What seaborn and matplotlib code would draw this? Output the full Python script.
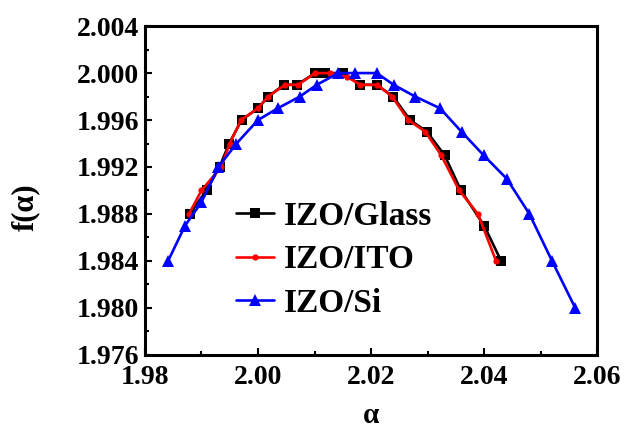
import matplotlib
matplotlib.use("Agg")
import matplotlib.pyplot as plt
import seaborn as sns
from matplotlib.ticker import MultipleLocator, FormatStrFormatter

# data
glass_a = [1.9879, 1.9909, 1.9932, 1.9949, 1.9971, 2.0000, 2.0018, 2.0046, 2.0069,
           2.0101, 2.0119, 2.0150, 2.0181, 2.0210, 2.0239, 2.0269, 2.0299, 2.0330,
           2.0359, 2.0400, 2.0430]
glass_f = [1.9880, 1.9900, 1.9920, 1.9940, 1.9960, 1.9970, 1.9980, 1.9990, 1.9990,
           2.0000, 2.0000, 2.0000, 1.9990, 1.9990, 1.9980, 1.9960, 1.9950, 1.9930,
           1.9900, 1.9870, 1.9840]

ito_a = [1.9878, 1.9900, 1.9935, 1.9950, 1.9970, 2.0000, 2.0018, 2.0048, 2.0071,
         2.0101, 2.0127, 2.0157, 2.0181, 2.0211, 2.0237, 2.0266, 2.0296, 2.0324,
         2.0356, 2.0389, 2.0421]
ito_f = [1.9880, 1.9900, 1.9920, 1.9940, 1.9960, 1.9970, 1.9980, 1.9990, 1.9990,
         2.0000, 2.0000, 1.9997, 1.9990, 1.9990, 1.9980, 1.9960, 1.9950, 1.9930,
         1.9900, 1.9880, 1.9840]

si_a = [1.9841, 1.9871, 1.9900, 1.9930, 1.9962, 2.0000, 2.0035, 2.0074, 2.0104,
        2.0142, 2.0172, 2.0210, 2.0240, 2.0278, 2.0322, 2.0360, 2.0399, 2.0440,
        2.0480, 2.0520, 2.0561]
si_f = [1.9840, 1.9870, 1.9890, 1.9920, 1.9940, 1.9960, 1.9970, 1.9980, 1.9990,
        2.0000, 2.0000, 2.0000, 1.9990, 1.9980, 1.9970, 1.9950, 1.9930, 1.9910,
        1.9880, 1.9840, 1.9800]

labels = ["IZO/Glass", "IZO/ITO", "IZO/Si"]

sns.set_style("ticks")
plt.rcParams["font.family"] = ["Liberation Serif", "DejaVu Serif"]
plt.rcParams["font.weight"] = "bold"
plt.rcParams["text.color"] = "black"
plt.rcParams["axes.labelcolor"] = "black"
plt.rcParams["xtick.color"] = "black"
plt.rcParams["ytick.color"] = "black"

fig = plt.figure(figsize=(6.3, 4.28), dpi=100)
ax = fig.add_axes([0.230, 0.171, 0.718, 0.768])

sns.lineplot(x=glass_a, y=glass_f, ax=ax, sort=False, color="black", lw=1.9,
             marker="s", markersize=6.5, markeredgewidth=0, label=labels[0])
sns.lineplot(x=ito_a, y=ito_f, ax=ax, sort=False, color="#ff0000", lw=1.9,
             marker="o", markersize=4.5, markeredgewidth=0, label=labels[1])
sns.lineplot(x=si_a, y=si_f, ax=ax, sort=False, color="#0000ff", lw=1.9,
             marker="^", markersize=9, markeredgewidth=0, label=labels[2])

ax.set_xlim(1.98, 2.06)
ax.set_ylim(1.976, 2.004)
ax.xaxis.set_major_locator(MultipleLocator(0.02))
ax.xaxis.set_minor_locator(MultipleLocator(0.01))
ax.yaxis.set_major_locator(MultipleLocator(0.004))
ax.yaxis.set_minor_locator(MultipleLocator(0.002))
ax.xaxis.set_major_formatter(FormatStrFormatter("%.2f"))
ax.yaxis.set_major_formatter(FormatStrFormatter("%.3f"))
ax.tick_params(which="both", direction="in", width=1.5, labelsize=20,
               colors="black")
ax.tick_params(axis="x", which="major", pad=7)
ax.tick_params(axis="y", which="major", pad=4)
ax.tick_params(which="major", length=5)
ax.tick_params(which="minor", length=3)
for lab in ax.get_xticklabels() + ax.get_yticklabels():
    lab.set_fontweight("bold")
for sp in ax.spines.values():
    sp.set_visible(True)
    sp.set_linewidth(2.2)
    sp.set_color("black")

ax.set_xlabel("α", fontsize=21, fontweight="bold", labelpad=9)
ax.set_ylabel("f(α)", fontsize=22, fontweight="bold")
ax.yaxis.set_label_coords(-0.232, 0.45)

ax.legend(loc="upper left", bbox_to_anchor=(0.172, 0.51), frameon=False,
          prop={"size": 24, "weight": "bold"}, handlelength=1.15,
          handletextpad=0.3, labelspacing=0.38, borderaxespad=0)

fig.savefig("out.png", dpi=100)
